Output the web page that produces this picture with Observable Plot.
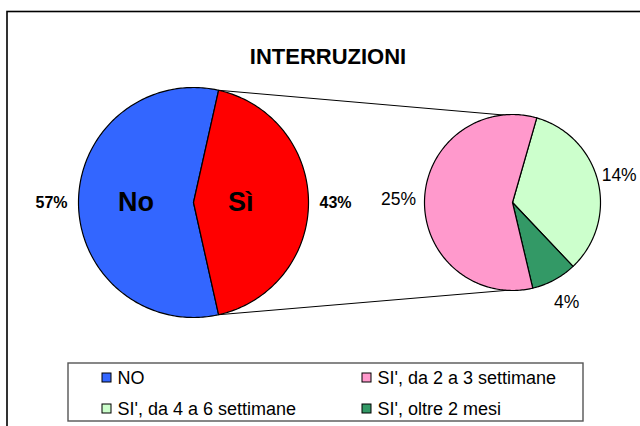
<!DOCTYPE html>
<html>
<head>
<meta charset="utf-8">
<script src="https://cdn.jsdelivr.net/npm/d3@7"></script>
<script src="https://cdn.jsdelivr.net/npm/@observablehq/plot@0.6"></script>
<style>
  html, body { margin: 0; padding: 0; background: #fff; overflow: hidden; }
</style>
</head>
<body>
<div id="chart"></div>
<script>
// ---- data ----
const title = "INTERRUZIONI";
const mainCats = ["NO", "Sì"];
const mainInnerLabels = ["No", "Sì"];
const mainVals = [57, 43];
const mainColors = ["#3366FF", "#FF0000"];

const subCats = ["SI', da 4 a 6 settimane", "SI', oltre 2 mesi", "SI', da 2 a 3 settimane"];
const subVals = [14.4, 3.6, 25];
const subColors = ["#CCFFCC", "#339966", "#FF99CC"];

const legendLabels = ["NO", "SI', da 2 a 3 settimane", "SI', da 4 a 6 settimane", "SI', oltre 2 mesi"];
const legendColors = ["#3366FF", "#FF99CC", "#CCFFCC", "#339966"];

// ---- layout ----
const W = 640, H = 426;
const FONT = "'Liberation Sans', Arial, sans-serif";
const main = {cx: 193, cy: 202, r: 115};
const sub = {cx: 512, cy: 202, r: 88, start: 16};
const innerLabelFactor = [0.5, 0.41];
const mainLabelGap = 27, subLabelGap = 26;
const subLabelSize = 17.5;

function pt(c, r, deg) {
  const a = deg * Math.PI / 180;
  return {x: c.cx + r * Math.sin(a), y: c.cy - r * Math.cos(a)};
}
function slicePoly(c, a0, a1, id, color) {
  const pts = [{...pt(c, 0, 0), id, color}];
  const n = Math.max(2, Math.ceil((a1 - a0) / 1));
  for (let i = 0; i <= n; i++) {
    const p = pt(c, c.r, a0 + (a1 - a0) * i / n);
    pts.push({...p, id, color});
  }
  return pts;
}

// main pie angles: "Sì" slice centred at 90°
const mainTotal = d3.sum(mainVals);
const siSpan = mainVals[1] / mainTotal * 360;
const siStart = 90 - siSpan / 2, siEnd = 90 + siSpan / 2;
const mainSlices = [
  {i: 0, a0: siEnd, a1: siStart + 360},
  {i: 1, a0: siStart, a1: siEnd}
];
let polys = [];
const boldLabels = [], bigLabels = [], plainLabels = [];
mainSlices.forEach(s => {
  polys = polys.concat(slicePoly(main, s.a0, s.a1, "m" + s.i, mainColors[s.i]));
  const mid = (s.a0 + s.a1) / 2;
  const pin = pt(main, main.r * innerLabelFactor[s.i], mid);
  bigLabels.push({...pin, text: mainInnerLabels[s.i]});
  const pout = pt(main, main.r + mainLabelGap, mid);
  boldLabels.push({...pout, text: Math.round(mainVals[s.i] / mainTotal * 100) + "%"});
});

// secondary pie
const subTotal = d3.sum(subVals);
let acc = sub.start;
const subAngles = [];
subVals.forEach((v, i) => {
  const a0 = acc, a1 = acc + v / subTotal * 360;
  acc = a1;
  subAngles.push([a0, a1]);
  polys = polys.concat(slicePoly(sub, a0, a1, "s" + i, subColors[i]));
  const pout = pt(sub, sub.r + subLabelGap, (a0 + a1) / 2);
  const text = Math.round(v / mainTotal * 100) + "%";
  const halfW = text.length * subLabelSize * 0.33;
  plainLabels.push({x: Math.min(pout.x, W - 4 - halfW), y: pout.y, text});
});

// connector lines: edges of "Sì" slice -> edges of the secondary group
const conn = [
  {a: pt(main, main.r, siStart), b: pt(sub, sub.r, subAngles[0][0])},
  {a: pt(main, main.r, siEnd), b: pt(sub, sub.r, subAngles[subVals.length - 2][1])}
];

// legend layout
const legBox = [{x1: 68, x2: 583, y1: 363, y2: 421}];
const legItems = legendLabels.map((t, i) => {
  const col = i % 2, row = Math.floor(i / 2);
  const mx = col === 0 ? 102 : 362;
  const my = row === 0 ? 373 : 404;
  return {text: t, color: legendColors[i], x1: mx, x2: mx + 9, y1: my, y2: my + 9, tx: mx + 15, ty: my + 4.5};
});
const frame = [{x1: 7, x2: 720, y1: 11.5, y2: 520}];

const chart = Plot.plot({
  width: W, height: H,
  margin: 0,
  x: {domain: [0, W], range: [0, W], axis: null},
  y: {domain: [0, H], range: [0, H], axis: null},
  color: {type: "identity"},
  style: {fontFamily: FONT, background: "#fff", overflow: "hidden"},
  marks: [
    Plot.rect(frame, {x1: "x1", x2: "x2", y1: "y1", y2: "y2", fill: "none", stroke: "#000", strokeWidth: 1.6}),
    Plot.text([title], {x: () => 327.5, y: () => 56.5, text: d => d, fontSize: 22, fontWeight: "bold", fontFamily: FONT, fill: "#000", lineAnchor: "middle"}),
    Plot.link(conn, {x1: d => d.a.x, y1: d => d.a.y, x2: d => d.b.x, y2: d => d.b.y, stroke: "#000", strokeWidth: 1}),
    Plot.line(polys, {x: "x", y: "y", z: "id", fill: "color", stroke: "#000", strokeWidth: 1.2, curve: "linear-closed", strokeLinejoin: "round"}),
    Plot.text(bigLabels, {x: "x", y: "y", text: "text", fontSize: 27, fontWeight: "bold", fontFamily: FONT, fill: "#000", textAnchor: "middle", lineAnchor: "middle"}),
    Plot.text(boldLabels, {x: "x", y: "y", text: "text", fontSize: 16, fontWeight: "bold", fontFamily: FONT, fill: "#000", textAnchor: "middle", lineAnchor: "middle"}),
    Plot.text(plainLabels, {x: "x", y: "y", text: "text", fontSize: subLabelSize, fontFamily: FONT, fill: "#000", textAnchor: "middle", lineAnchor: "middle"}),
    Plot.rect(legBox, {x1: "x1", x2: "x2", y1: "y1", y2: "y2", fill: "#fff", stroke: "#555", strokeWidth: 1.4}),
    Plot.rect(legItems, {x1: "x1", x2: "x2", y1: "y1", y2: "y2", fill: "color", stroke: "#000", strokeWidth: 1}),
    Plot.text(legItems, {x: "tx", y: "ty", text: "text", fontSize: 18, fontFamily: FONT, fill: "#000", textAnchor: "start", lineAnchor: "middle"})
  ]
});
document.getElementById("chart").appendChild(chart);
</script>
</body>
</html>
